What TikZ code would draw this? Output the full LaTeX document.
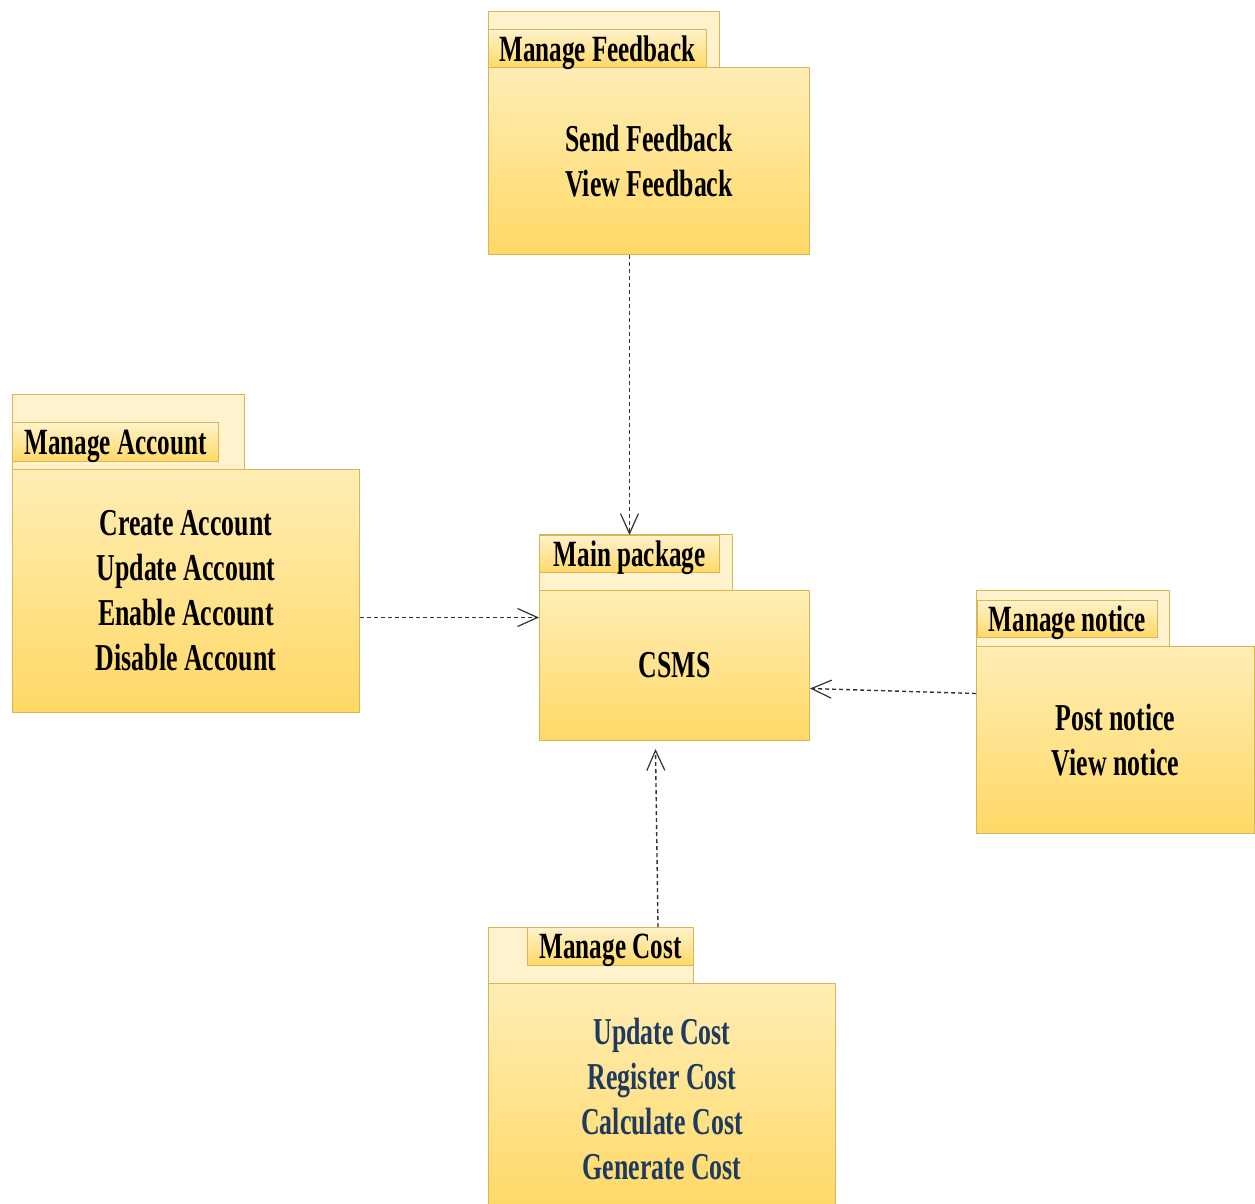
\documentclass[tikz,border=0pt]{standalone}
\usepackage{fontspec}
\newfontfamily\pkgfont{Liberation Serif}[FakeStretch=0.68]
\usetikzlibrary{arrows.meta}
\definecolor{pkgborder}{HTML}{D6B656}
\definecolor{tabfill}{HTML}{FFF2CC}
\definecolor{bodytop}{HTML}{FFEDB5}
\definecolor{pkgdark}{HTML}{FFD966}
\definecolor{navy}{HTML}{1F3A60}
\definecolor{dep}{HTML}{333333}
\tikzset{
  pkgtab/.style={draw=pkgborder, fill=tabfill, anchor=north west, inner sep=0pt, line width=1pt},
  pkglabel/.style={draw=pkgborder, top color=tabfill, bottom color=pkgdark, anchor=north west, inner sep=0pt, line width=1pt,
    text depth=0pt, font=\pkgfont\bfseries\fontsize{37}{42}\selectfont},
  pkgbody/.style={draw=pkgborder, top color=bodytop, bottom color=pkgdark, anchor=north west, inner sep=0pt, line width=1pt,
    align=center, font=\pkgfont\bfseries\fontsize{38}{45}\selectfont},
  depend/.style={draw=dep, line width=1.4pt, dash pattern=on 4pt off 3pt, -{Straight Barb[length=20pt,width=18pt,line width=1.2pt]}}
}
\begin{document}
\begin{tikzpicture}[x=1pt,y=-1pt]
\useasboundingbox[fill=white] (0,0) rectangle (1255,1203);
\clip (0,0) rectangle (1255,1203);
% Manage Feedback
\node[pkgtab, minimum width=231pt, minimum height=56pt] (fbtab) at (488,11) {};
\node[pkgbody, minimum width=321pt, minimum height=187pt] (fb) at (488,67) {Send Feedback\\View Feedback};
\node[pkglabel, minimum width=218pt, minimum height=38pt] (fblab) at (488,29) {Manage Feedback};
% Manage Account
\node[pkgtab, minimum width=232pt, minimum height=75pt] (acctab) at (12,394) {};
\node[pkgbody, minimum width=347pt, minimum height=243pt] (acc) at (12,469) {Create Account\\Update Account\\Enable Account\\Disable Account};
\node[pkglabel, minimum width=206pt, minimum height=39pt] (acclab) at (12,422) {Manage Account};
% Main package
\node[pkgtab, minimum width=193pt, minimum height=56pt] (mtab) at (539,534) {};
\node[pkgbody, minimum width=270pt, minimum height=150pt] (main) at (539,590) {CSMS};
\node[pkglabel, minimum width=180pt, minimum height=37pt] (mlab) at (539,535) {Main package};
% Manage notice
\node[pkgtab, minimum width=193pt, minimum height=56pt] (ntab) at (976,590) {};
\node[pkgbody, minimum width=278pt, minimum height=187pt] (nb) at (976,646) {Post notice\\View notice};
\node[pkglabel, minimum width=180pt, minimum height=37pt] (nlab) at (977,600) {Manage notice};
% Manage Cost
\node[pkgtab, minimum width=205pt, minimum height=56pt] (ctab) at (488,927) {};
\node[pkgbody, minimum width=347pt, minimum height=230pt, text=navy] (cb) at (488,983) {Update Cost\\Register Cost\\Calculate Cost\\Generate Cost};
\node[pkglabel, minimum width=166pt, minimum height=38pt] (clab) at (527,927) {Manage Cost};
% dependencies
\draw[depend] (fb.south -| mlab.north) -- (mlab.north);
\draw[depend] ([yshift=-26.5pt]acc.east) -- ([yshift=48pt]main.west);
\draw[depend] ([yshift=46.5pt]nb.west) -- ([yshift=-23pt]main.east);
\draw[depend] ([xshift=170pt]ctab.north west) -- ([xshift=-19pt,yshift=-8pt]main.south);
\end{tikzpicture}
\end{document}
